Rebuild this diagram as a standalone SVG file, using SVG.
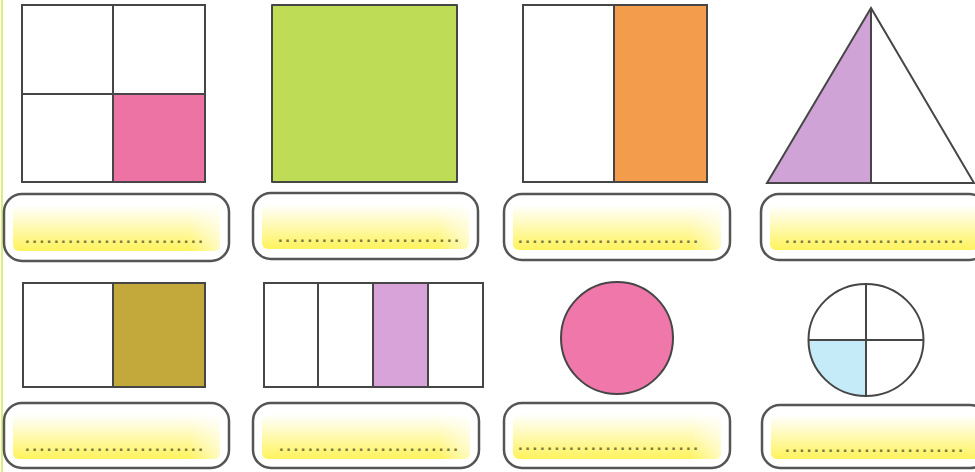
<svg xmlns="http://www.w3.org/2000/svg" width="975" height="472" viewBox="0 0 975 472">
<defs>
<linearGradient id="yel" x1="0" y1="0" x2="0" y2="1">
<stop offset="0" stop-color="#ffffff"/>
<stop offset="0.35" stop-color="#fffbc8"/>
<stop offset="1" stop-color="#fff35c"/>
</linearGradient>
<linearGradient id="fadeR" x1="0" y1="0" x2="1" y2="0">
<stop offset="0" stop-color="#ffffff" stop-opacity="0"/>
<stop offset="0.85" stop-color="#ffffff" stop-opacity="0"/>
<stop offset="1" stop-color="#ffffff" stop-opacity="0.6"/>
</linearGradient>
</defs>
<style>
.sh{stroke:#464646;stroke-width:2;stroke-linejoin:round}
.ln{stroke:#464646;stroke-width:2;fill:none}
.box{fill:#ffffff;stroke:#555555;stroke-width:2.5}
.dots{font-family:"Liberation Sans",Arial,sans-serif;font-size:17px;fill:#7f7c38;font-weight:bold}
</style>
<rect width="975" height="472" fill="#ffffff"/>
<line x1="2" y1="0" x2="2" y2="472" stroke="#dcef7a" stroke-width="2"/>

<g id="shape1">
<rect class="sh" x="22" y="5" width="183" height="177" fill="#ffffff"/>
<rect x="113" y="94" width="92" height="88" fill="#ee73a5"/>
<rect class="ln" x="22" y="5" width="183" height="177"/>
<line class="ln" x1="113" y1="5" x2="113" y2="182"/>
<line class="ln" x1="22" y1="94" x2="205" y2="94"/>
</g>
<g id="shape2">
<rect class="sh" x="272" y="5" width="185" height="177" fill="#bedc55"/>
</g>
<g id="shape3">
<rect class="sh" x="523" y="5" width="184" height="177" fill="#ffffff"/>
<rect x="614" y="5" width="93" height="177" fill="#f39c4c"/>
<rect class="ln" x="523" y="5" width="184" height="177"/>
<line class="ln" x1="614" y1="5" x2="614" y2="182"/>
</g>
<g id="shape4">
<polygon points="871,8 767,183 871,183" fill="#d0a3d6"/>
<polygon class="ln" points="871,8 767,183 974,183"/>
<line class="ln" x1="871" y1="8" x2="871" y2="183"/>
</g>

<g id="label1">
<rect class="box" x="4" y="194" width="225" height="67" rx="18"/>
<rect x="13" y="205" width="207" height="46" rx="6" fill="url(#yel)"/>
<rect x="13" y="205" width="207" height="46" rx="6" fill="url(#fadeR)"/>
<text class="dots" x="25" y="243" textLength="178" lengthAdjust="spacing">.........................</text>
</g>
<g id="label2">
<rect class="box" x="253" y="193" width="225" height="66" rx="18"/>
<rect x="262" y="204" width="207" height="45" rx="6" fill="url(#yel)"/>
<rect x="262" y="204" width="207" height="45" rx="6" fill="url(#fadeR)"/>
<text class="dots" x="278" y="242" textLength="181" lengthAdjust="spacing">.........................</text>
</g>
<g id="label3">
<rect class="box" x="504" y="194" width="226" height="66" rx="18"/>
<rect x="513" y="205" width="208" height="45" rx="6" fill="url(#yel)"/>
<rect x="513" y="205" width="208" height="45" rx="6" fill="url(#fadeR)"/>
<text class="dots" x="518" y="243" textLength="180" lengthAdjust="spacing">.........................</text>
</g>
<g id="label4">
<rect class="box" x="761" y="194" width="226" height="66" rx="18"/>
<rect x="770" y="205" width="208" height="45" rx="6" fill="url(#yel)"/>
<text class="dots" x="785" y="243" textLength="178" lengthAdjust="spacing">.........................</text>
</g>

<g id="shape5">
<rect class="sh" x="23" y="283" width="182" height="104" fill="#ffffff"/>
<rect x="113" y="283" width="92" height="104" fill="#c3a93b"/>
<rect class="ln" x="23" y="283" width="182" height="104"/>
<line class="ln" x1="113" y1="283" x2="113" y2="387"/>
</g>
<g id="shape6">
<rect class="sh" x="264" y="283" width="219" height="104" fill="#ffffff"/>
<rect x="373" y="283" width="55" height="104" fill="#d7a3d8"/>
<rect class="ln" x="264" y="283" width="219" height="104"/>
<line class="ln" x1="318" y1="283" x2="318" y2="387"/>
<line class="ln" x1="373" y1="283" x2="373" y2="387"/>
<line class="ln" x1="428" y1="283" x2="428" y2="387"/>
</g>
<g id="shape7">
<circle class="sh" cx="617" cy="338" r="56" fill="#ef77a9"/>
</g>
<g id="shape8">
<path d="M866,340 L808.5,340 A57.5,56 0 0 0 866,396 Z" fill="#c6ebf8"/>
<ellipse class="ln" cx="866" cy="340" rx="57.5" ry="56"/>
<line class="ln" x1="866" y1="284" x2="866" y2="396"/>
<line class="ln" x1="808.5" y1="340" x2="923.5" y2="340"/>
</g>

<g id="label5">
<rect class="box" x="4" y="403" width="225" height="65" rx="18"/>
<rect x="13" y="414" width="207" height="45" rx="6" fill="url(#yel)"/>
<rect x="13" y="414" width="207" height="45" rx="6" fill="url(#fadeR)"/>
<text class="dots" x="25" y="451" textLength="178" lengthAdjust="spacing">.........................</text>
</g>
<g id="label6">
<rect class="box" x="253" y="403" width="226" height="65" rx="18"/>
<rect x="262" y="414" width="208" height="45" rx="6" fill="url(#yel)"/>
<rect x="262" y="414" width="208" height="45" rx="6" fill="url(#fadeR)"/>
<text class="dots" x="279" y="451" textLength="179" lengthAdjust="spacing">.........................</text>
</g>
<g id="label7">
<rect class="box" x="504" y="403" width="226" height="65" rx="18"/>
<rect x="513" y="414" width="208" height="45" rx="6" fill="url(#yel)"/>
<rect x="513" y="414" width="208" height="45" rx="6" fill="url(#fadeR)"/>
<text class="dots" x="518" y="450" textLength="180" lengthAdjust="spacing">.........................</text>
</g>
<g id="label8">
<rect class="box" x="762" y="405" width="226" height="63" rx="18"/>
<rect x="771" y="415" width="208" height="44" rx="6" fill="url(#yel)"/>
<text class="dots" x="785" y="452" textLength="178" lengthAdjust="spacing">.........................</text>
</g>
</svg>
